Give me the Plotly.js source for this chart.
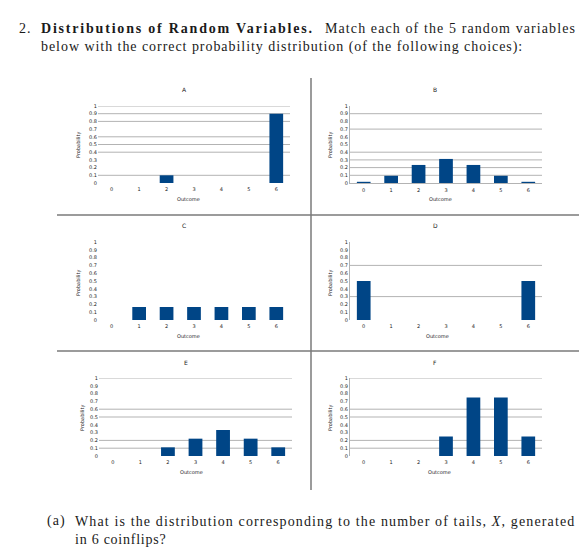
<!DOCTYPE html>
<html>
<head>
<meta charset="utf-8">
<script src="https://cdn.plot.ly/plotly-3.0.1.min.js"></script>
<style>html,body{margin:0;padding:0;background:#fff;}#chart{width:579px;height:547px;}</style>
</head>
<body>
<div id="chart"></div>
<script>
// ---- data ----
const outcomes = ['0', '1', '2', '3', '4', '5', '6'];
const yTickVals = [0, 0.1, 0.2, 0.3, 0.4, 0.5, 0.6, 0.7, 0.8, 0.9, 1];
const yTickText = ['0', '0.1', '0.2', '0.3', '0.4', '0.5', '0.6', '0.7', '0.8', '0.9', '1'];
const chartNames = ['A', 'B', 'C', 'D', 'E', 'F'];
const probA = [0, 0, 0.1, 0, 0, 0, 0.9];
const probB = [0.0156, 0.0938, 0.2344, 0.3125, 0.2344, 0.0938, 0.0156];
const probC = [0, 0.1667, 0.1667, 0.1667, 0.1667, 0.1667, 0.1667];
const probD = [0.5, 0, 0, 0, 0, 0, 0.5];
const probE = [0, 0, 0.1111, 0.2222, 0.3333, 0.2222, 0.1111];
const probF = [0, 0, 0, 0.25, 0.75, 0.75, 0.25];
const gridA = [0.1, 0.4, 0.5, 0.6, 0.8, 0.9, 1];
const gridB = [0.1, 0.2, 0.3, 0.4, 0.7, 0.9];
const gridC = [];
const gridD = [0.3, 0.7];
const gridE = [0.1, 0.2, 0.5, 0.6, 1];
const gridF = [0.1, 0.2, 0.5, 0.6, 1];
const xTitle = 'Outcome';
const yTitle = 'Probability';

// ---- layout helpers ----
const W = 579, H = 547;
const px = x => x / W;
const py = y => 1 - y / H;
const series = [probA, probB, probC, probD, probE, probF];
const grids = [gridA, gridB, gridC, gridD, gridE, gridF];
// plot boxes in pixels: [left, right, top, bottom]
const boxes = [
  [98, 290, 106, 183],
  [350, 542, 106, 183],
  [98, 290, 242, 320],
  [350, 542, 242, 320],
  [99, 292, 378, 456],
  [350, 542, 378, 456]
];
const titlePos = [[184, 90], [435, 90], [184, 226], [435, 226], [186, 362], [435, 362]];
const xTitlePos = [[188, 199], [440, 199], [188, 336], [437, 336], [191, 472], [439, 472]];
const yTitlePos = [[78, 145], [330, 145], [78, 283], [330, 283], [82, 418], [330, 418]];
const showYLine = [false, true, false, true, false, true];
const showXLine = [false, true, false, false, false, false];

const barColor = '#004586';
const gridColor = '#b3b3b3';
const tickFont = {family: 'DejaVu Sans, sans-serif', size: 5, color: '#222'};
const smallFont = {family: 'DejaVu Sans, sans-serif', size: 5, color: '#222'};

const data = [];
const layout = {
  width: W, height: H,
  margin: {l: 0, r: 0, t: 0, b: 0},
  paper_bgcolor: '#ffffff',
  plot_bgcolor: 'rgba(0,0,0,0)',
  showlegend: false,
  bargap: 0.5,
  shapes: [],
  annotations: []
};

series.forEach((vals, i) => {
  const n = i + 1;
  const xa = 'x' + (n === 1 ? '' : n);
  const ya = 'y' + (n === 1 ? '' : n);
  data.push({
    type: 'bar', x: outcomes, y: vals,
    xaxis: xa, yaxis: ya,
    marker: {color: barColor, line: {width: 0}},
    hoverinfo: 'x+y'
  });
  const b = boxes[i];
  layout['xaxis' + (n === 1 ? '' : n)] = {
    domain: [px(b[0]), px(b[1])],
    anchor: ya,
    type: 'category',
    categoryarray: outcomes,
    ticks: '', ticklabelstandoff: 2,
    showgrid: false, zeroline: false,
    showline: showXLine[i], linecolor: gridColor, linewidth: 1,
    tickfont: tickFont,
    fixedrange: true
  };
  layout['yaxis' + (n === 1 ? '' : n)] = {
    domain: [py(b[3]), py(b[2])],
    anchor: xa,
    range: [0, 1],
    tickmode: 'array', tickvals: yTickVals, ticktext: yTickText,
    ticks: '', showgrid: false, zeroline: false,
    showline: showYLine[i], linecolor: gridColor, linewidth: 1,
    tickfont: tickFont,
    fixedrange: true
  };
  grids[i].forEach(g => {
    layout.shapes.push({
      type: 'line', layer: 'below',
      xref: xa + ' domain', x0: 0, x1: 1,
      yref: ya, y0: g, y1: g,
      line: {color: gridColor, width: 1}
    });
  });
  layout.annotations.push({
    text: chartNames[i], showarrow: false,
    xref: 'paper', yref: 'paper',
    x: px(titlePos[i][0]), y: py(titlePos[i][1]),
    xanchor: 'center', yanchor: 'middle',
    font: {family: 'DejaVu Sans, sans-serif', size: 6, color: '#222'}
  });
  layout.annotations.push({
    text: xTitle, showarrow: false,
    xref: 'paper', yref: 'paper',
    x: px(xTitlePos[i][0]), y: py(xTitlePos[i][1]),
    xanchor: 'center', yanchor: 'middle',
    font: smallFont
  });
  layout.annotations.push({
    text: yTitle, showarrow: false, textangle: -90,
    xref: 'paper', yref: 'paper',
    x: px(yTitlePos[i][0]), y: py(yTitlePos[i][1]),
    xanchor: 'center', yanchor: 'middle',
    font: smallFont
  });
});

// separators
layout.shapes.push({type: 'line', xref: 'paper', yref: 'paper', x0: px(311), x1: px(311), y0: py(78), y1: py(490), line: {color: '#7a7a7a', width: 1.5}});
layout.shapes.push({type: 'line', xref: 'paper', yref: 'paper', x0: px(57), x1: px(579), y0: py(215), y1: py(215), line: {color: '#7a7a7a', width: 1.5}});
layout.shapes.push({type: 'line', xref: 'paper', yref: 'paper', x0: px(57), x1: px(579), y0: py(351), y1: py(351), line: {color: '#7a7a7a', width: 1.5}});

// page text
const serif = {family: 'Liberation Serif, DejaVu Serif, serif', size: 14, color: '#1a1a1a'};
const spacing = {};
function textAt(t, x, y, ls, bold) {
  spacing[layout.annotations.length] = ls;
  layout.annotations.push({text: t, showarrow: false, xref: 'paper', yref: 'paper',
    x: px(x), y: py(y), xanchor: 'left', yanchor: 'middle', align: 'left',
    font: Object.assign({}, serif, bold ? {weight: 'bold'} : {})});
}
textAt('2.', 17, 29, 1.0);
textAt('Distributions of Random Variables.', 39, 29, 1.8, true);
textAt('Match each of the 5 random variables', 323, 29, 1.1);
textAt('below with the correct probability distribution (of the following choices):', 39, 47, 0.95);
textAt('(a)', 45, 521, 1.0);
textAt('What is the distribution corresponding to the number of tails, <i>X</i>, generated', 73, 521, 1.13);
textAt('in 6 coinflips?', 73, 539, 0.75);

Plotly.newPlot('chart', data, layout, {staticPlot: true, displayModeBar: false}).then(gd => {
  Object.keys(spacing).forEach(k => {
    const g = gd.querySelector('g.annotation[data-index="' + k + '"]');
    if (!g) return;
    g.querySelectorAll('text').forEach(t => { t.style.letterSpacing = spacing[k] + 'px'; });
  });
});
</script>
</body>
</html>
